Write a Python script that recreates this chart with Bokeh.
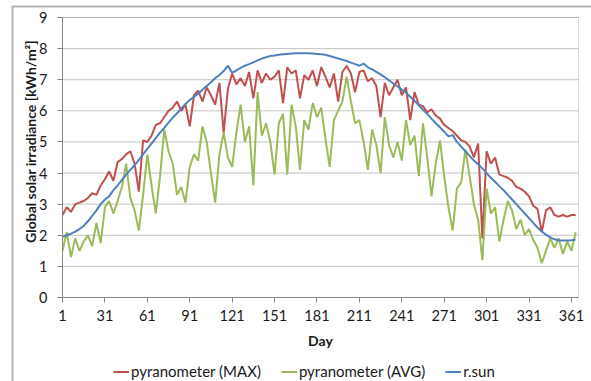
import math
from bokeh.plotting import figure
from bokeh.models import (Range1d, FixedTicker, Legend, LegendItem, ColumnDataSource,
                          BoxAnnotation, Label)
from bokeh.embed import file_html
from bokeh.resources import INLINE

# ---- data (every third day) ----
days = list(range(1, 366, 3))

pyr_max = [
    2.65, 2.9, 2.75, 3.0, 3.05, 3.1, 3.2, 3.35, 3.3, 3.6,
    3.8, 4.05, 3.75, 4.35, 4.45, 4.6, 4.7, 4.3, 3.4, 5.05,
    5.0, 5.2, 5.55, 5.6, 5.8, 6.0, 6.1, 6.3, 6.0, 6.2,
    5.5, 6.5, 6.65, 6.3, 6.75, 6.5, 6.2, 6.9, 5.3, 6.7,
    7.2, 6.85, 7.05, 6.8, 7.25, 6.4, 7.3, 6.9, 7.2, 7.0,
    7.1, 7.3, 6.25, 7.4, 7.2, 7.3, 6.4, 7.15, 7.0, 7.3,
    6.8, 7.4, 7.1, 6.75, 7.2, 6.3, 7.25, 7.45, 7.2, 6.6,
    7.25, 7.3, 6.95, 7.05, 6.8, 5.8, 6.9, 6.5, 6.75, 7.0,
    6.5, 6.75, 5.7, 6.6, 6.2, 6.15, 5.95, 6.05, 5.85, 5.75,
    5.55, 5.45, 5.35, 5.2, 5.05, 5.0, 4.85, 4.5, 4.95, 1.9,
    4.7, 4.3, 4.5, 3.95, 3.9, 3.85, 3.75, 3.55, 3.5, 3.4,
    3.25, 2.95, 2.85, 2.1, 2.8, 2.9, 2.65, 2.6, 2.65, 2.6,
    2.65, 2.65,
]

pyr_avg = [
    1.5, 2.1, 1.3, 1.9, 1.5, 1.8, 2.0, 1.65, 2.4, 1.75,
    2.9, 3.1, 2.7, 3.1, 3.55, 4.3, 3.2, 2.8, 2.15, 3.3,
    4.6, 3.6, 2.7, 3.9, 5.4, 4.7, 4.3, 3.3, 3.55, 3.05,
    4.2, 4.6, 4.4, 5.5, 5.0, 4.0, 3.05, 4.6, 5.3, 4.5,
    4.2, 5.3, 6.2, 5.0, 5.5, 3.6, 6.6, 5.2, 5.6, 5.0,
    3.95, 5.6, 5.9, 3.95, 6.2, 5.5, 4.1, 5.7, 5.4, 6.25,
    5.8, 6.1, 5.1, 4.2, 5.7, 6.0, 6.3, 7.1, 6.3, 5.6,
    5.7, 5.0, 4.1, 5.4, 4.9, 4.0, 5.8, 4.9, 4.5, 5.0,
    4.4, 5.7, 4.9, 5.2, 3.9, 5.6, 4.5, 3.25, 4.3, 5.05,
    3.9, 2.9, 2.15, 3.5, 3.7, 4.75, 3.9, 3.0, 2.5, 1.2,
    3.5, 2.7, 2.9, 1.8, 2.5, 3.1, 2.8, 2.2, 2.5, 2.0,
    2.2, 1.85, 1.6, 1.1, 1.5, 1.9, 1.6, 1.9, 1.4, 1.8,
    1.5, 2.1,
]

r_sun = [
    1.95, 2.0, 2.05, 2.12, 2.2, 2.3, 2.45, 2.62, 2.8, 3.0,
    3.15, 3.25, 3.45, 3.6, 3.78, 3.95, 4.1, 4.25, 4.42, 4.6,
    4.78, 4.95, 5.12, 5.3, 5.45, 5.62, 5.78, 5.92, 6.08, 6.22,
    6.35, 6.45, 6.55, 6.68, 6.8, 6.92, 7.05, 7.15, 7.28, 7.45,
    7.22, 7.3, 7.38, 7.45, 7.5, 7.56, 7.62, 7.68, 7.72, 7.76,
    7.78, 7.8, 7.82, 7.83, 7.84, 7.85, 7.85, 7.85, 7.85, 7.84,
    7.83, 7.82, 7.8, 7.76, 7.72, 7.68, 7.64, 7.6, 7.55, 7.5,
    7.45, 7.52, 7.4, 7.33, 7.25, 7.17, 7.08, 6.98, 6.88, 6.78,
    6.68, 6.58, 6.45, 6.32, 6.18, 6.03, 5.9, 5.75, 5.6, 5.47,
    5.33, 5.18, 5.22, 5.0, 4.85, 4.7, 4.55, 4.4, 4.28, 4.15,
    4.0, 3.85, 3.72, 3.58, 3.45, 3.3, 3.15, 3.0, 2.85, 2.7,
    2.55, 2.4, 2.25, 2.12, 2.02, 1.93, 1.87, 1.84, 1.83, 1.83,
    1.84, 1.86,
]

x_ticks = [1, 31, 61, 91, 121, 151, 181, 211, 241, 271, 301, 331, 361]
y_ticks = [0, 1, 2, 3, 4, 5, 6, 7, 8, 9]
series_names = ["pyranometer (MAX)", "pyranometer (AVG)", "r.sun"]
series_colors = ["#C0504D", "#9BBB59", "#4F81BD"]
x_label = "Day"
y_label = "Global solar irradiance [kWh/m\u00b2]"

# ---- layout (pixels of the 591x381 page) ----
W, H = 591, 381
X0, X1 = 1, 366          # plot-area day extent
Y0, Y1 = 0, 9            # plot-area value extent
PL, PR, PT, PB = 62, 578, 17, 297   # plot-area edges in pixels

dx = (X1 - X0) / (PR - PL)
dy = (Y1 - Y0) / (PB - PT)


def px_x(px):
    return X0 + (px - PL) * dx


def px_y(py):
    return Y0 + (PB - py) * dy


FONT = "Lato"
TXT = "#1a1a1a"
AXC = "#868686"

src = ColumnDataSource(dict(day=days, pmax=pyr_max, pavg=pyr_avg, rsun=r_sun))

p = figure(width=W, height=H, output_backend="svg", toolbar_location=None,
           x_range=Range1d(px_x(0), px_x(W)), y_range=Range1d(px_y(H), px_y(0)),
           min_border_left=0, min_border_right=0, min_border_top=0, min_border_bottom=0)
p.background_fill_color = "white"
p.border_fill_color = "white"
p.outline_line_color = None
p.xgrid.visible = False
p.ygrid.visible = False

# horizontal grid lines at the y ticks
p.segment(x0=X0, x1=X1, y0=y_ticks, y1=y_ticks, line_color="#C4C4C4", line_width=1)

r1 = p.line("day", "pmax", source=src, line_color=series_colors[0], line_width=2)
r2 = p.line("day", "pavg", source=src, line_color=series_colors[1], line_width=2)
r3 = p.line("day", "rsun", source=src, line_color=series_colors[2], line_width=2)

# plot-area border
p.add_layout(BoxAnnotation(left=X0, right=X1, bottom=Y0, top=Y1, fill_alpha=0,
                           line_color="#8c8c8c", line_width=1))
# outer black frame (top and left edges visible)
p.add_layout(BoxAnnotation(left=px_x(12), right=px_x(W + 40), bottom=px_y(H + 40),
                           top=px_y(6), fill_alpha=0, line_color="black", line_width=2))

xa = p.xaxis[0]
xa.fixed_location = Y0
xa.bounds = (X0, X1)
xa.ticker = FixedTicker(ticks=x_ticks)
xa.major_label_text_font = FONT
xa.major_label_text_font_size = "14.5px"
xa.major_label_text_color = TXT
xa.major_label_standoff = 7
xa.major_tick_out = 5
xa.major_tick_in = 0
xa.minor_tick_out = 0
xa.minor_tick_in = 0
xa.axis_line_color = AXC
xa.major_tick_line_color = AXC

ya = p.yaxis[0]
ya.fixed_location = X0
ya.bounds = (Y0, Y1)
ya.ticker = FixedTicker(ticks=y_ticks)
ya.major_label_text_font = FONT
ya.major_label_text_font_size = "14.5px"
ya.major_label_text_color = TXT
ya.major_label_standoff = 10
ya.major_tick_out = 5
ya.major_tick_in = 0
ya.minor_tick_out = 0
ya.minor_tick_in = 0
ya.axis_line_color = AXC
ya.major_tick_line_color = AXC

p.add_layout(Label(x=px_x(320), y=px_y(340), text=x_label, text_font=FONT,
                   text_font_size="14px", text_font_style="bold", text_color=TXT,
                   text_align="center", text_baseline="middle"))
p.add_layout(Label(x=px_x(29.5), y=px_y(141), text=y_label, angle=math.pi / 2,
                   text_font=FONT, text_font_size="14px", text_font_style="bold",
                   text_color=TXT, text_align="center", text_baseline="middle"))

legend = Legend(
    items=[LegendItem(label=n, renderers=[r]) for n, r in zip(series_names, [r1, r2, r3])],
    orientation="horizontal", location=(113, 1),
    label_text_font=FONT, label_text_font_size="15px", label_text_color=TXT,
    glyph_width=16, glyph_height=17, label_height=17, label_standoff=2, spacing=20,
    padding=0, margin=0, border_line_alpha=0, background_fill_alpha=0,
)
p.add_layout(legend)

open("out.html", "w").write(file_html(p, INLINE))
